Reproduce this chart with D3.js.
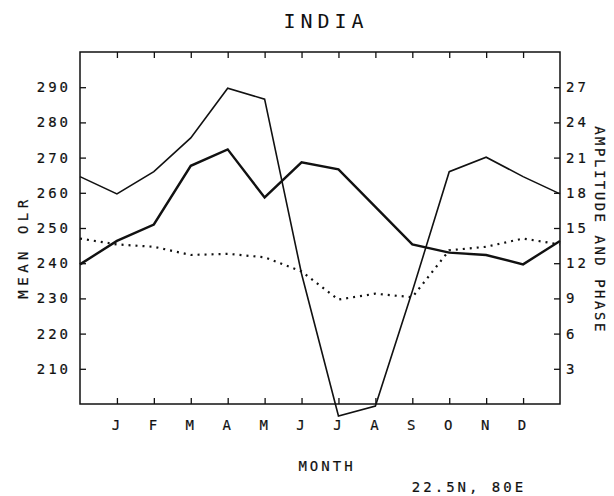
<!DOCTYPE html>
<html>
<head>
<meta charset="utf-8">
<script src="https://cdn.jsdelivr.net/npm/d3@7"></script>
<style>
  body { margin: 0; background: #fff; }
  text { font-family: "DejaVu Sans Mono", monospace; fill: #111; stroke: #111; stroke-width: 0.2px; }
</style>
</head>
<body>
<div id="CHART"></div>
<script>
// monthly values, Jan..Dec
var months = ["J", "F", "M", "A", "M", "J", "J", "A", "S", "O", "N", "D"];
// mean OLR (left axis, W/m2)
var meanOLR = [259.7, 266.0, 275.6, 289.7, 286.6, 237.0, 196.6, 199.4, 232.0, 266.0, 270.1, 264.6];
// amplitude (right axis)
var amplitude = [13.9, 15.3, 20.3, 21.7, 17.6, 20.6, 20.0, 16.8, 13.6, 12.9, 12.7, 11.9];
// phase (right axis)
var phase = [13.6, 13.4, 12.7, 12.8, 12.5, 11.3, 8.9, 9.4, 9.1, 13.1, 13.4, 14.1];
var leftTicks = [210, 220, 230, 240, 250, 260, 270, 280, 290];
var rightTicks = [3, 6, 9, 12, 15, 18, 21, 24, 27];

var W = 614, H = 496;
var margin = {top: 52, right: 54, bottom: 92, left: 80},
    width = W - margin.left - margin.right,
    height = H - margin.top - margin.bottom;

var svg = d3.select("#CHART")
  .append("svg")
    .attr("width", W)
    .attr("height", H)
  .append("g")
    .attr("transform", "translate(" + margin.left + "," + margin.top + ")");

var x = d3.scaleLinear().domain([0, 13]).range([0, width]);
var yL = d3.scaleLinear().domain([200, 300]).range([height, 0]);
var yR = d3.scaleLinear().domain([0, 30]).range([height, 0]);

// annual cycle: December before January, January after December
function wrap(arr) {
  var pts = [{m: 0, v: arr[arr.length - 1]}];
  arr.forEach(function(v, i) { pts.push({m: i + 1, v: v}); });
  pts.push({m: 13, v: arr[0]});
  return pts;
}

var monthPos = d3.range(1, 13);

// axes, ticks pointing inward
svg.append("g")
  .attr("transform", "translate(0," + height + ")")
  .call(d3.axisBottom(x).tickValues(monthPos).tickFormat(function(d) { return months[d - 1]; })
    .tickSizeInner(-6).tickSizeOuter(0).tickPadding(16));
svg.append("g")
  .call(d3.axisTop(x).tickValues(monthPos).tickFormat("").tickSizeInner(-6).tickSizeOuter(0));
svg.append("g")
  .call(d3.axisLeft(yL).tickValues(leftTicks).tickSizeInner(-6).tickSizeOuter(0).tickPadding(9));
svg.append("g")
  .attr("transform", "translate(" + width + ",0)")
  .call(d3.axisRight(yR).tickValues(rightTicks).tickSizeInner(-6).tickSizeOuter(0).tickPadding(6));

svg.selectAll(".domain").remove();
svg.selectAll(".tick line").attr("stroke", "#111").attr("stroke-width", 1.3);
svg.selectAll(".tick text")
  .attr("font-size", 14)
  .style("letter-spacing", "3px")
  .attr("fill", "#111");

// frame
svg.append("rect")
  .attr("width", width)
  .attr("height", height)
  .attr("fill", "none")
  .attr("stroke", "#111")
  .attr("stroke-width", 1.5);

var lineL = d3.line().x(function(d) { return x(d.m); }).y(function(d) { return yL(d.v); });
var lineR = d3.line().x(function(d) { return x(d.m); }).y(function(d) { return yR(d.v); });

svg.append("path")
  .attr("d", lineL(wrap(meanOLR)))
  .attr("fill", "none")
  .attr("stroke", "#111")
  .attr("stroke-width", 1.6);

svg.append("path")
  .attr("d", lineR(wrap(amplitude)))
  .attr("fill", "none")
  .attr("stroke", "#111")
  .attr("stroke-width", 2.4);

svg.append("path")
  .attr("d", lineR(wrap(phase)))
  .attr("fill", "none")
  .attr("stroke", "#111")
  .attr("stroke-width", 2.2)
  .attr("stroke-dasharray", "2,5");

// titles
var root = d3.select("svg");
root.append("text")
  .attr("x", 326).attr("y", 28)
  .attr("text-anchor", "middle")
  .attr("font-size", 20)
  .style("stroke-width", "0px")
  .style("letter-spacing", "5px")
  .text("INDIA");

root.append("text")
  .attr("transform", "translate(28,247) rotate(-90)")
  .attr("text-anchor", "middle")
  .attr("font-size", 14)
  .style("letter-spacing", "4.5px")
  .text("MEAN OLR");

root.append("text")
  .attr("transform", "translate(595,230) rotate(90)")
  .attr("text-anchor", "middle")
  .attr("font-size", 14)
  .style("letter-spacing", "2.5px")
  .text("AMPLITUDE AND PHASE");

root.append("text")
  .attr("x", 327).attr("y", 471)
  .attr("text-anchor", "middle")
  .attr("font-size", 14)
  .style("letter-spacing", "3px")
  .text("MONTH");

root.append("text")
  .attr("x", 469).attr("y", 492)
  .attr("text-anchor", "middle")
  .attr("font-size", 14)
  .style("letter-spacing", "3px")
  .text("22.5N, 80E");
</script>
</body>
</html>
